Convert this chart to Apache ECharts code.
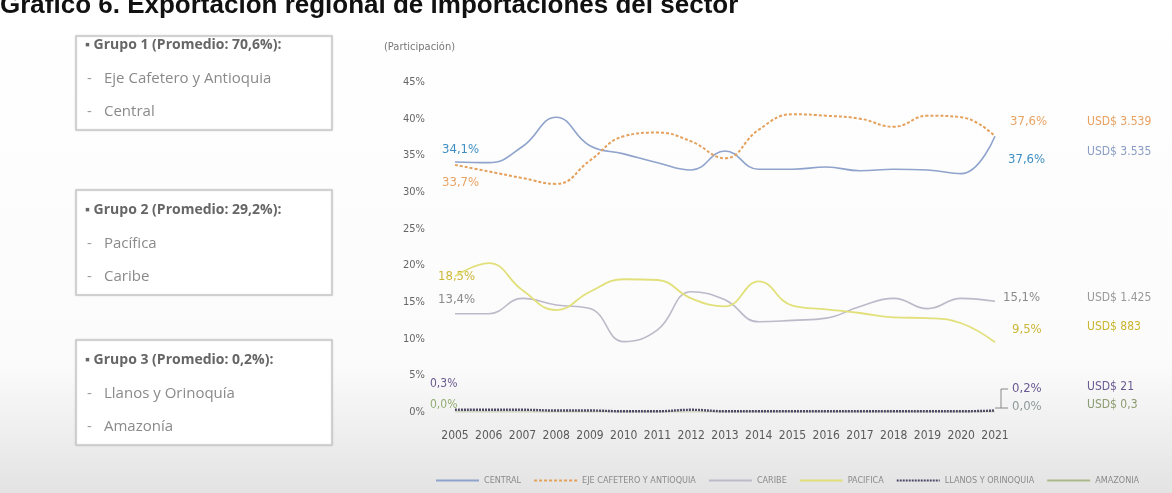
<!DOCTYPE html>
<html>
<head>
<meta charset="utf-8">
<script src="https://cdn.jsdelivr.net/npm/echarts@6/dist/echarts.min.js"></script>
<style>
html,body{margin:0;padding:0;background:#fff;}
#c{width:1172px;height:493px;}
</style>
</head>
<body>
<div id="c"></div>
<script>
// ---- data ----
var years = ['2005','2006','2007','2008','2009','2010','2011','2012','2013','2014','2015','2016','2017','2018','2019','2020','2021'];
var central  = [34.1,34.0,36.2,40.2,36.3,35.2,34.0,33.0,35.6,33.1,33.1,33.4,32.9,33.1,33.0,32.5,37.6];
var eje      = [33.7,32.8,31.9,31.1,34.3,37.6,38.1,36.9,34.6,38.5,40.6,40.4,40.0,38.9,40.4,40.2,37.6];
var caribe   = [13.4,13.4,15.5,14.6,14.1,9.6,11.2,16.4,15.3,12.3,12.5,12.8,14.4,15.5,14.1,15.5,15.1];
var pacifica = [18.5,20.3,16.6,13.9,16.4,18.1,18.0,15.5,14.4,17.8,14.5,14.0,13.5,12.9,12.8,12.1,9.5];
var llanos   = [0.3,0.3,0.3,0.2,0.2,0.1,0.1,0.3,0.1,0.1,0.1,0.1,0.1,0.1,0.1,0.1,0.2];
var amazonia = [0.0,0.0,0.0,0.0,0.0,0.0,0.0,0.0,0.0,0.0,0.0,0.0,0.0,0.0,0.0,0.0,0.0];
var seriesNames = ['CENTRAL','EJE CAFETERO Y ANTIOQUIA','CARIBE','PACIFICA','LLANOS Y ORINOQUIA','AMAZONIA'];
var usdLabels = ['USD$ 3.535','USD$ 3.539','USD$ 1.425','USD$ 883','USD$ 21','USD$ 0,3'];
var groupTitles = ['\u25AA Grupo 1 (Promedio: 70,6%):','\u25AA Grupo 2 (Promedio: 29,2%):','\u25AA Grupo 3 (Promedio: 0,2%):'];
var groupItems = [['Eje Cafetero y Antioquia','Central'],['Pacífica','Caribe'],['Llanos y Orinoquía','Amazonía']];
var titleText = 'Gráfico 6. Exportación regional de importaciones del sector';

function pct(v){ return v.toFixed(1).replace('.', ',') + '%'; }

var narrow = "'Liberation Sans Narrow','DejaVu Sans Condensed',sans-serif";
var colors = {
  central:'#8fa3cc', eje:'#e3a15c', caribe:'#bdb9c9', pacifica:'#e2e07a', llanos:'#4f4866', amazonia:'#a9b98a'
};
var txt = {
  blue:'#3f8fc4', orange:'#e8a466', gray:'#8a8a8a', yellow:'#cdb73a', purple:'#6a5a92', green:'#93ad72'
};

var chart = echarts.init(document.getElementById('c'));

var graphics = [];
// title (cropped at top)
graphics.push({type:'text', left:0, top:-7, style:{text:titleText, fill:'#111', font:'bold 26px "Liberation Sans", Arial, sans-serif'}});
// group boxes
var boxTops = [36, 190, 340], boxHeights = [94, 105, 105];
for (var g=0; g<3; g++){
  var t = boxTops[g];
  graphics.push({type:'rect', shape:{x:76, y:t, width:256, height:boxHeights[g]},
    style:{fill:'#ffffff', stroke:'#c9c9c9', lineWidth:1.5, shadowBlur:2, shadowColor:'rgba(0,0,0,0.12)'}});
  var ty = (g===0) ? t+9 : t+20;
  graphics.push({type:'text', x:85, y:ty, style:{text:groupTitles[g], fill:'#666', font:'bold 14px "Open Sans", sans-serif', textVerticalAlign:'middle'}});
  for (var k=0;k<2;k++){
    var iy = ty + 34 + k*33;
    graphics.push({type:'text', x:87, y:iy, style:{text:'-', fill:'#999', font:'15px "Open Sans", sans-serif', textVerticalAlign:'middle'}});
    graphics.push({type:'text', x:104, y:iy, style:{text:groupItems[g][k], fill:'#8a8a8a', font:'15px "Open Sans", sans-serif', textVerticalAlign:'middle'}});
  }
}
// axis caption
graphics.push({type:'text', x:384, y:47, style:{text:'(Participación)', fill:'#777', font:'11px '+narrow, textVerticalAlign:'middle'}});

// start labels
var startLabels = [
  {v:central[0], x:442, y:150, c:txt.blue, f:13},
  {v:eje[0], x:442, y:183, c:txt.orange, f:13},
  {v:pacifica[0], x:438, y:277, c:txt.yellow, f:13},
  {v:caribe[0], x:438, y:300, c:txt.gray, f:13},
  {v:llanos[0], x:430, y:384, c:txt.purple, f:12},
  {v:amazonia[0], x:430, y:405, c:txt.green, f:12}
];
startLabels.forEach(function(s){
  graphics.push({type:'text', x:s.x, y:s.y, style:{text:pct(s.v), fill:s.c, font:s.f+'px '+narrow, textVerticalAlign:'middle'}});
});
// end labels
var endLabels = [
  {v:central[16], x:1008, y:160, c:txt.blue, u:0, uy:152, uc:'#8a9cc4'},
  {v:eje[16], x:1010, y:122, c:txt.orange, u:1, uy:122, uc:'#e8a060'},
  {v:caribe[16], x:1003, y:298, c:txt.gray, u:2, uy:298, uc:'#999'},
  {v:pacifica[16], x:1012, y:330, c:txt.yellow, u:3, uy:327, uc:'#c9b52e'},
  {v:llanos[16], x:1012, y:389, c:txt.purple, u:4, uy:387, uc:'#6a5a92'},
  {v:amazonia[16], x:1012, y:407, c:'#8d9a9a', u:5, uy:405, uc:'#8b9b70'}
];
endLabels.forEach(function(s){
  graphics.push({type:'text', x:s.x, y:s.y, style:{text:pct(s.v), fill:s.c, font:'13px '+narrow, textVerticalAlign:'middle'}});
  graphics.push({type:'text', x:1087, y:s.uy, style:{text:usdLabels[s.u], fill:s.uc, font:'12px '+narrow, textVerticalAlign:'middle'}});
});
// bracket for small values
graphics.push({type:'polyline', shape:{points:[[995,408],[1001,408],[1001,389],[1008,389]]}, style:{stroke:'#888', lineWidth:1, fill:null}});
graphics.push({type:'polyline', shape:{points:[[1001,408],[1008,408]]}, style:{stroke:'#888', lineWidth:1, fill:null}});

function mk(name, data, color, width, type, z){
  return {name:name, type:'line', data:data, smooth:0.45, symbol:'none', z:z||2,
    lineStyle:{color:color, width:width, type:type||'solid'}, itemStyle:{color:color}};
}

chart.setOption({
  backgroundColor:{type:'linear', x:0, y:0, x2:0, y2:1, colorStops:[
    {offset:0, color:'#ffffff'}, {offset:0.74, color:'#fbfbfb'}, {offset:1, color:'#e3e3e3'}]},
  animation:false,
  grid:{left:455, right:177, top:82, bottom:81},
  xAxis:{type:'category', data:years, boundaryGap:false,
    axisLine:{show:false}, axisTick:{show:false},
    axisLabel:{color:'#5a5a5a', fontSize:12, fontFamily:narrow, margin:18, interval:0}},
  yAxis:{type:'value', min:0, max:45, interval:5,
    axisLine:{show:false}, axisTick:{show:false}, splitLine:{show:false},
    axisLabel:{color:'#666', fontSize:11, fontFamily:narrow, margin:30, formatter:function(v){return v+'%';}}},
  legend:{left:430, bottom:3, itemWidth:43, itemHeight:8, itemGap:12,
    itemStyle:{opacity:0},
    data:seriesNames, textStyle:{color:'#8a8a8a', fontSize:9, fontFamily:narrow}},
  series:[
    mk(seriesNames[0], central, colors.central, 1.6, 'solid', 3),
    mk(seriesNames[1], eje, colors.eje, 2, [3,2], 4),
    mk(seriesNames[2], caribe, colors.caribe, 1.6, 'solid', 2),
    mk(seriesNames[3], pacifica, colors.pacifica, 1.8, 'solid', 2),
    mk(seriesNames[4], llanos, colors.llanos, 2.4, [2,1], 4),
    mk(seriesNames[5], amazonia, colors.amazonia, 1, 'solid', 3)
  ],
  graphic:graphics
});
</script>
</body>
</html>
